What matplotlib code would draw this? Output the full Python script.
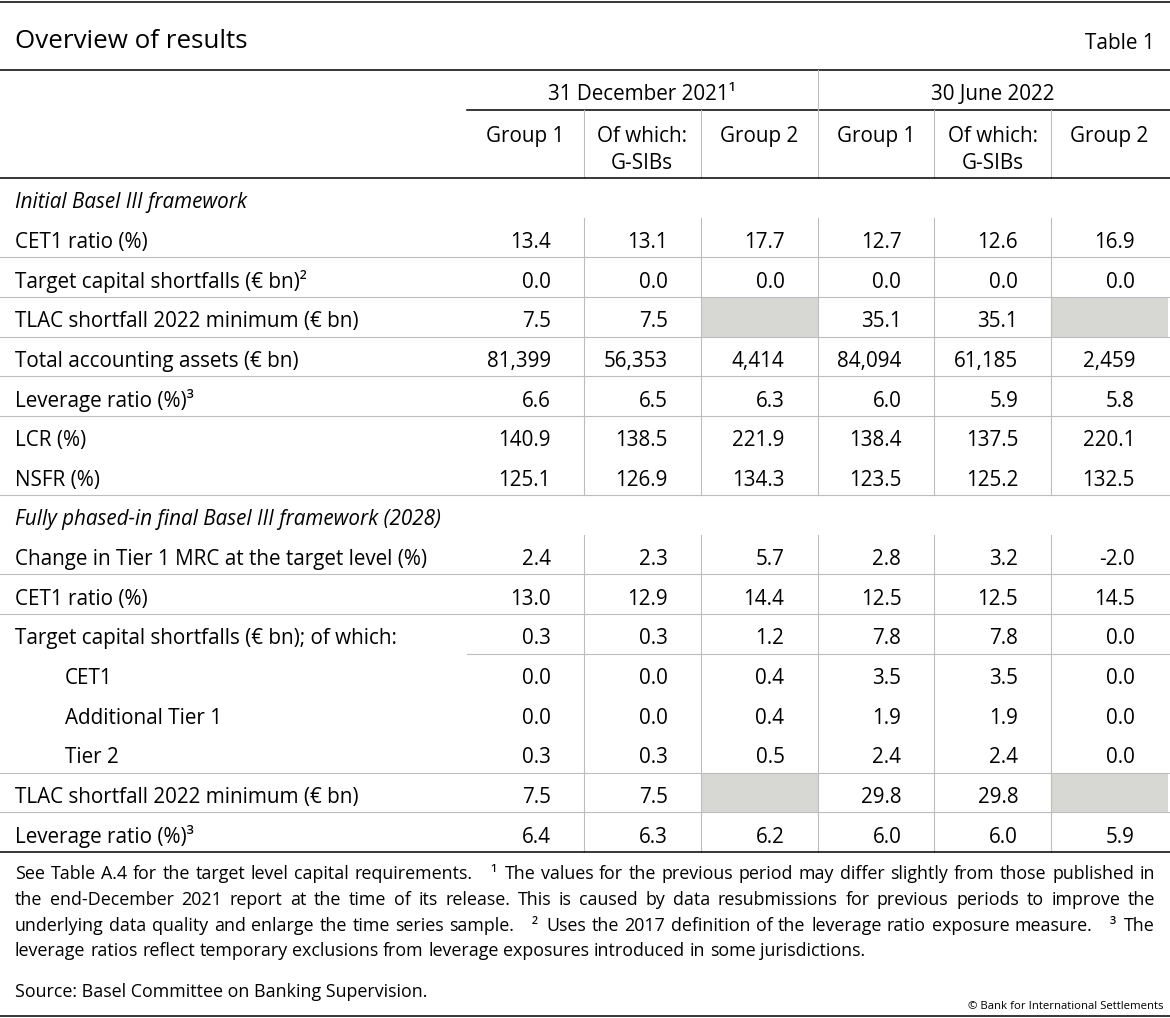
import matplotlib
matplotlib.use("Agg")
import matplotlib.pyplot as plt
from matplotlib.patches import Rectangle

plt.rcParams['font.family'] = ['Open Sans', 'DejaVu Sans']

# ---------------- data ----------------
title = "Overview of results"
table_no = "Table 1"
periods = ["31 December 2021¹", "30 June 2022"]
groups = ["Group 1", "Of which:\nG-SIBs", "Group 2",
          "Group 1", "Of which:\nG-SIBs", "Group 2"]

section_initial = "Initial Basel III framework"
labels_initial = ["CET1 ratio (%)",
                  "Target capital shortfalls (€ bn)²",
                  "TLAC shortfall 2022 minimum (€ bn)",
                  "Total accounting assets (€ bn)",
                  "Leverage ratio (%)³",
                  "LCR (%)",
                  "NSFR (%)"]
dec21_g1_initial = [13.4, 0.0, 7.5, 81399, 6.6, 140.9, 125.1]
dec21_gsib_initial = [13.1, 0.0, 7.5, 56353, 6.5, 138.5, 126.9]
dec21_g2_initial = [17.7, 0.0, None, 4414, 6.3, 221.9, 134.3]
jun22_g1_initial = [12.7, 0.0, 35.1, 84094, 6.0, 138.4, 123.5]
jun22_gsib_initial = [12.6, 0.0, 35.1, 61185, 5.9, 137.5, 125.2]
jun22_g2_initial = [16.9, 0.0, None, 2459, 5.8, 220.1, 132.5]

section_final = "Fully phased-in final Basel III framework (2028)"
labels_final = ["Change in Tier 1 MRC at the target level (%)",
                "CET1 ratio (%)",
                "Target capital shortfalls (€ bn); of which:",
                "CET1",
                "Additional Tier 1",
                "Tier 2",
                "TLAC shortfall 2022 minimum (€ bn)",
                "Leverage ratio (%)³"]
dec21_g1_final = [2.4, 13.0, 0.3, 0.0, 0.0, 0.3, 7.5, 6.4]
dec21_gsib_final = [2.3, 12.9, 0.3, 0.0, 0.0, 0.3, 7.5, 6.3]
dec21_g2_final = [5.7, 14.4, 1.2, 0.4, 0.4, 0.5, None, 6.2]
jun22_g1_final = [2.8, 12.5, 7.8, 3.5, 1.9, 2.4, 29.8, 6.0]
jun22_gsib_final = [3.2, 12.5, 7.8, 3.5, 1.9, 2.4, 29.8, 6.0]
jun22_g2_final = [-2.0, 14.5, 0.0, 0.0, 0.0, 0.0, None, 5.9]

footnote_lines = [
    "See Table A.4 for the target level capital requirements. ¹ The values for the previous period may differ slightly from those published in",
    "the end-December 2021 report at the time of its release. This is caused by data resubmissions for previous periods to improve the",
    "underlying data quality and enlarge the time series sample. ² Uses the 2017 definition of the leverage ratio exposure measure. ³ The",
    "leverage ratios reflect temporary exclusions from leverage exposures introduced in some jurisdictions.",
]
source = "Source: Basel Committee on Banking Supervision."
copyright_txt = "© Bank for International Settlements"

# ---------------- layout ----------------
W, H = 1170, 1018
fig = plt.figure(figsize=(W / 100, H / 100), dpi=100)
ax = fig.add_axes([0, 0, 1, 1])
ax.set_xlim(0, W)
ax.set_ylim(H, 0)
ax.axis('off')
R = fig.canvas.get_renderer()

BLACK = '#000000'
GREY_LINE = '#bdbdbd'
GREY_FILL = '#d7d7d3'
LW_B = 1.1
LW_G = 0.8


def text_width(s, fs, **kw):
    t = ax.text(0, 0, s, fontsize=fs, **kw)
    w = t.get_window_extent(R).width
    t.remove()
    return w


fs_body = 10 * 414 / text_width(labels_final[0], 10)
fs_title = 10 * 232 / text_width(title, 10)
fs_tab = 10 * 70 / text_width(table_no, 10)
fs_note = 10 * 412 / text_width(source, 10)
fs_copy = 10 * 195 / text_width(copyright_txt, 10)

x_left, x_right = 0, W
col0 = 467
col_w = (1168 - col0) / 6
edges = [col0 + i * col_w for i in range(7)]

# top lines & title
ax.plot([x_left, x_right], [2, 2], color=BLACK, lw=LW_B)
ax.text(15, 47.5, title, fontsize=fs_title, ha='left', va='baseline')
ax.text(1155, 49, table_no, fontsize=fs_tab, ha='right', va='baseline')
ax.plot([x_left, x_right], [70, 70], color=BLACK, lw=LW_B)

# header
for p, period in enumerate(periods):
    xc = (edges[3 * p] + edges[3 * p + 3]) / 2
    ax.text(xc, 99.5, period, fontsize=fs_body, ha='center', va='baseline')
ax.plot([edges[0], x_right], [110, 110], color=BLACK, lw=LW_B)
ax.plot([edges[3], edges[3]], [70, 110], color=GREY_LINE, lw=LW_G)
for j, g in enumerate(groups):
    xc = (edges[j] + edges[j + 1]) / 2
    for li, line in enumerate(g.split('\n')):
        ax.text(xc, 141.5 + li * 27, line, fontsize=fs_body, ha='center', va='baseline')
for e in edges[1:6]:
    ax.plot([e, e], [110, 178], color=GREY_LINE, lw=LW_G)
ax.plot([x_left, x_right], [178, 178], color=BLACK, lw=LW_B)

# body rows
cols_initial = [dec21_g1_initial, dec21_gsib_initial, dec21_g2_initial,
                jun22_g1_initial, jun22_gsib_initial, jun22_g2_initial]
cols_final = [dec21_g1_final, dec21_gsib_final, dec21_g2_final,
              jun22_g1_final, jun22_gsib_final, jun22_g2_final]
indent_initial = [0] * len(labels_initial)
indent_final = [0, 0, 0, 1, 1, 1, 0, 0]
below_initial = ['full', 'full', 'full', 'full', 'full', None, 'full']
below_final = ['full', 'full', 'part', None, None, 'full', 'full', 'black']

table_top, table_bot = 178, 852
n_rows = 2 + len(labels_initial) + len(labels_final)
row_h = (table_bot - table_top) / n_rows


def fmt(v):
    if abs(v) >= 1000:
        return f"{v:,.0f}"
    return f"{v:.1f}"


k = 0
for sec, labels, cols, indent, below in [
        (section_initial, labels_initial, cols_initial, indent_initial, below_initial),
        (section_final, labels_final, cols_final, indent_final, below_final)]:
    y0 = table_top + k * row_h
    ax.text(15, y0 + row_h / 2 + 10.5, sec, fontsize=fs_body, style='italic',
            ha='left', va='baseline')
    k += 1
    block_start = table_top + k * row_h
    for i, lab in enumerate(labels):
        y0 = table_top + k * row_h
        y1 = y0 + row_h
        yb = y0 + row_h / 2 + 10.5
        ax.text(65 if indent[i] else 15, yb, lab, fontsize=fs_body,
                ha='left', va='baseline')
        for j, col in enumerate(cols):
            v = col[i]
            if v is None:
                ax.add_patch(Rectangle((edges[j], y0), col_w, row_h,
                                       facecolor=GREY_FILL, edgecolor='none', zorder=0))
            else:
                ax.text(edges[j + 1] - 33, yb, fmt(v), fontsize=fs_body,
                        ha='right', va='baseline')
        if below[i] == 'full':
            ax.plot([x_left, x_right], [y1, y1], color=GREY_LINE, lw=LW_G, zorder=1)
        elif below[i] == 'part':
            ax.plot([edges[0], x_right], [y1, y1], color=GREY_LINE, lw=LW_G, zorder=1)
        elif below[i] == 'black':
            ax.plot([x_left, x_right], [y1, y1], color=BLACK, lw=LW_B, zorder=3)
        k += 1
    block_end = table_top + k * row_h
    for e in edges[1:6]:
        ax.plot([e, e], [block_start, block_end], color=GREY_LINE, lw=LW_G, zorder=1)

# footnotes (justified)
note_x0, note_x1 = 15, 1155
space_w = text_width("a a", fs_note) - text_width("aa", fs_note)
sups = set("¹²³")
for li, line in enumerate(footnote_lines):
    yb = 879 + li * 25.8
    words = line.split(' ')
    widths = [text_width(w, fs_note) for w in words]
    extra = []
    for a, b in zip(words[:-1], words[1:]):
        if b[0] in sups:
            extra.append(2.6 * space_w)
        elif a[0] in sups:
            extra.append(0.5 * space_w)
        else:
            extra.append(0.0)
    n_gaps = len(words) - 1
    if li < len(footnote_lines) - 1:
        gap = (note_x1 - note_x0 - sum(widths) - sum(extra)) / n_gaps
    else:
        gap = space_w
    x = note_x0
    for wi, w in enumerate(words):
        ax.text(x, yb, w, fontsize=fs_note, ha='left', va='baseline')
        x += widths[wi]
        if wi < n_gaps:
            x += gap + extra[wi]

ax.text(15, 997, source, fontsize=fs_note, ha='left', va='baseline')
ax.text(1163, 1009, copyright_txt, fontsize=fs_copy, ha='right', va='baseline')
ax.plot([x_left, x_right], [1016, 1016], color=BLACK, lw=LW_B)

fig.savefig("out.png", dpi=100)
